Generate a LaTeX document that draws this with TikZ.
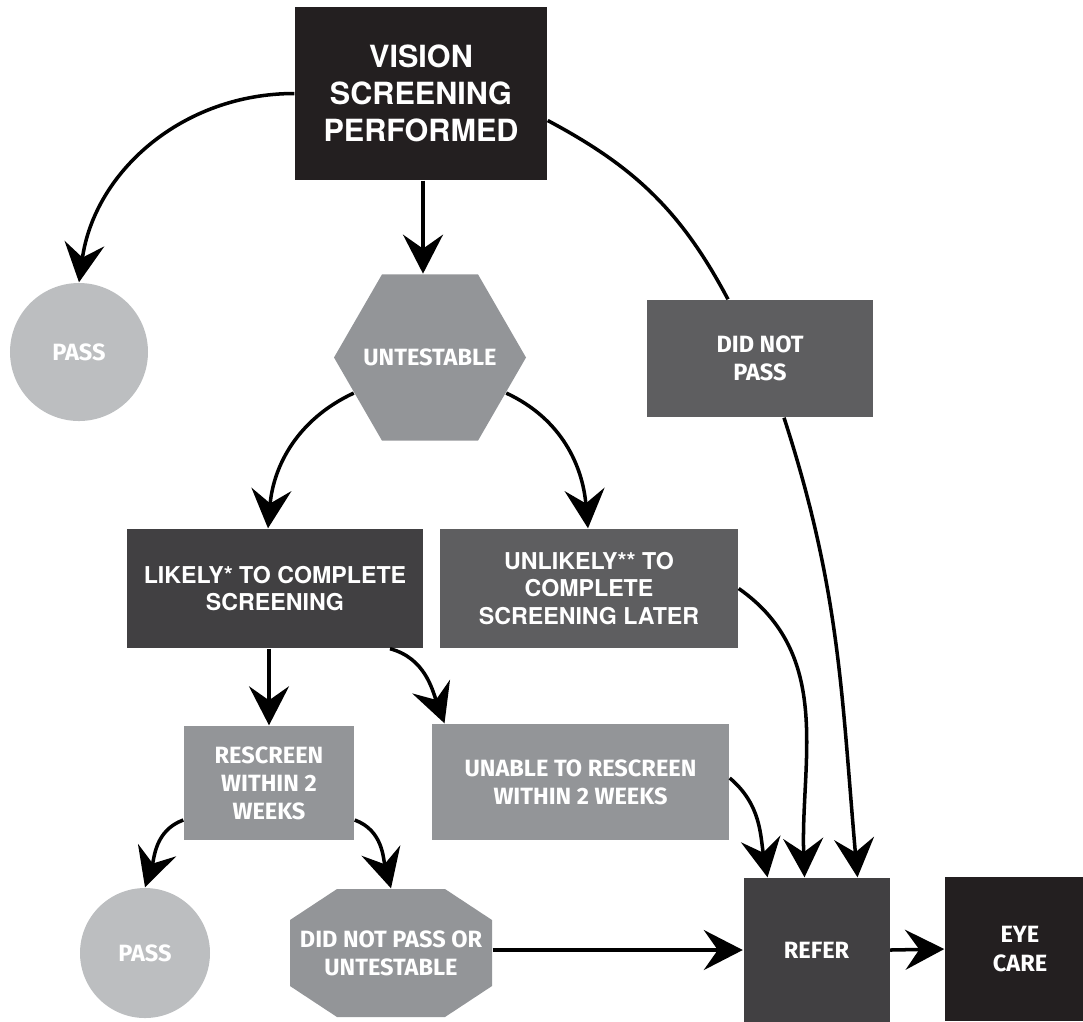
\documentclass[tikz,border=0pt]{standalone}
\usepackage{fontspec}
\newfontfamily\helv{TeX Gyre Heros}
\newfontfamily\fira{Fira Sans}
\usetikzlibrary{arrows.meta,shapes.geometric}
\definecolor{inkblack}{HTML}{231F20}
\definecolor{inkdark}{HTML}{414042}
\definecolor{inkmid}{HTML}{5E5E60}
\definecolor{inkgray}{HTML}{939598}
\definecolor{inklight}{HTML}{BCBEC0}
\begin{document}
\begin{tikzpicture}[
  every node/.style={text=white,align=center,inner sep=0pt},
  box/.style={rectangle,fill=#1},
  octbox/.style={rectangle,fill=white,path picture={
      \fill[#1] ([xshift=0.47cm]path picture bounding box.north west) -- ([xshift=-0.47cm]path picture bounding box.north east)
        -- ([yshift=-0.31cm]path picture bounding box.north east) -- ([yshift=0.31cm]path picture bounding box.south east)
        -- ([xshift=-0.47cm]path picture bounding box.south east) -- ([xshift=0.47cm]path picture bounding box.south west)
        -- ([yshift=0.31cm]path picture bounding box.south west) -- ([yshift=-0.31cm]path picture bounding box.north west) -- cycle;}},
  helvbig/.style={font=\helv\bfseries\fontsize{8.7}{10.5}\selectfont},
  helvsmall/.style={font=\helv\bfseries\fontsize{6.6}{7.9}\selectfont},
  firatext/.style={font=\fira\bfseries\fontsize{6.7}{8}\selectfont},
  flow/.style={line width=1pt,-{Stealth[length=3.9mm,width=4mm,inset=1.4mm]}}]
  \useasboundingbox (0,0) rectangle (10.83,-10.21);
  \clip (0,0) rectangle (10.83,-10.21);
  \node[box=inkblack,helvbig,minimum width=2.52cm,minimum height=1.73cm] (vision) at (4.21,-0.935) {VISION\\SCREENING\\PERFORMED};
  \node[circle,fill=inklight,firatext,minimum size=1.38cm] (passa) at (0.79,-3.52) {PASS};
  \node[regular polygon,regular polygon sides=6,fill=inkgray,firatext,inner sep=-0.3cm,minimum size=1.92cm] (untest) at (4.30,-3.575) {UNTESTABLE};
  \node[box=inkmid,firatext,minimum width=2.26cm,minimum height=1.17cm] (dnp) at (7.60,-3.585) {DID NOT\\PASS};
  \node[box=inkdark,helvsmall,minimum width=2.96cm,minimum height=1.19cm] (likely) at (2.75,-5.885) {LIKELY* TO COMPLETE\\SCREENING};
  \node[box=inkmid,helvsmall,minimum width=2.98cm,minimum height=1.19cm] (unlikely) at (5.89,-5.885) {UNLIKELY** TO\\COMPLETE\\SCREENING LATER};
  \node[box=inkgray,firatext,minimum width=1.70cm,minimum height=1.14cm] (rescreen) at (2.69,-7.83) {RESCREEN\\WITHIN 2\\WEEKS};
  \node[box=inkgray,firatext,minimum width=2.97cm,minimum height=1.16cm] (unable) at (5.805,-7.82) {UNABLE TO RESCREEN\\WITHIN 2 WEEKS};
  \node[circle,fill=inklight,firatext,minimum size=1.30cm] (passb) at (1.45,-9.53) {PASS};
  \node[octbox=inkgray,firatext,minimum width=2.02cm,minimum height=1.28cm] (retest) at (3.91,-9.53) {DID NOT PASS OR\\UNTESTABLE};
  \node[box=inkdark,firatext,minimum width=1.46cm,minimum height=1.44cm] (refer) at (8.165,-9.50) {REFER};
  \node[box=inkblack,firatext,minimum width=1.50cm,minimum height=1.44cm] (eyecare) at (10.20,-9.49) {EYE\\CARE};
  \draw[flow] (vision.west) to[out=180,in=82] (passa.north);
  \draw[flow] ([xshift=0.02cm]vision.south) -- ([xshift=0.02cm]vision.south |- untest.north);
  \draw[line width=1pt] ([yshift=-0.27cm]vision.east) to[out=-28,in=118] ([xshift=-0.32cm]dnp.north);
  \draw[flow] ([xshift=0.24cm]dnp.south) to[out=-72,in=95] ([xshift=0.41cm]refer.north);
  \draw[flow] (untest.205) to[out=205,in=85] ([xshift=-0.07cm]likely.north);
  \draw[flow] (untest.-25) to[out=-25,in=95] ([xshift=-0.01cm]unlikely.north);
  \draw[flow] (likely.south -| rescreen.north) -- (rescreen.north);
  \draw[flow] ([xshift=1.15cm]likely.south) to[out=-15,in=110] ([xshift=-1.36cm]unable.north);
  \draw[flow] (unlikely.east) to[out=-35,in=92] ([xshift=-0.12cm]refer.north);
  \draw[flow] ([yshift=0.04cm]unable.east) to[out=-40,in=100] ([xshift=-0.49cm]refer.north);
  \draw[flow] ([yshift=-0.37cm]rescreen.west) to[out=200,in=72] (passb.north);
  \draw[flow] ([yshift=-0.37cm]rescreen.east) to[out=-20,in=105] (retest.north);
  \draw[flow] (retest.east |- refer.west) -- (refer.west);
  \draw[flow] (refer.east) -- (eyecare.west);
\end{tikzpicture}
\end{document}
